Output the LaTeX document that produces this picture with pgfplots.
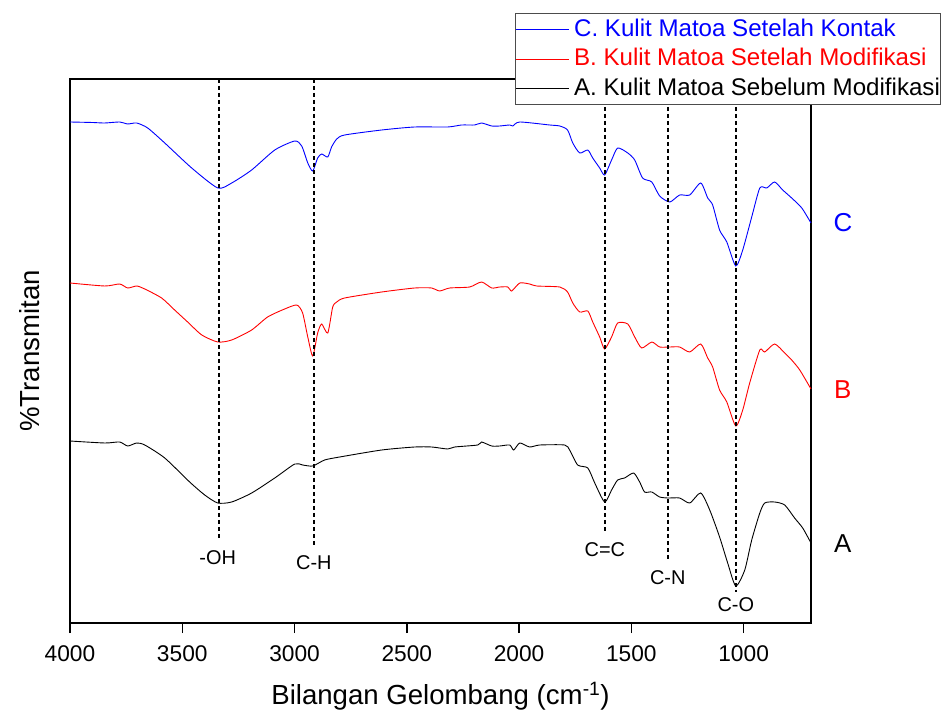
\documentclass[border=0pt]{standalone}
\usepackage{fontspec}
\setmainfont{Liberation Sans}
\usepackage{pgfplots}
\pgfplotsset{compat=1.18}

\begin{document}
\begin{tikzpicture}
\useasboundingbox (-70bp,-88bp) rectangle (875bp,623bp);
\begin{axis}[
  at={(0bp,0bp)}, anchor=south west,
  scale only axis, width=741bp, height=544bp,
  xmin=700, xmax=4000, x dir=reverse,
  ymin=0, ymax=544,
  axis line style={line width=1.5bp},
  xtick={1000,1500,...,4000},
  ytick=\empty,
  tick pos=left,
  tick align=outside,
  major tick length=10bp,
  xtick style={draw=black, line width=1.5bp},
  ticklabel style={font=\fontsize{22.8}{27}\selectfont},
  xticklabel style={yshift=-9bp},
  /pgf/number format/assume math mode=true,
  /pgf/number format/set thousands separator={},
  xlabel={Bilangan Gelombang (cm\textsuperscript{-1})},
  ylabel={\%Transmitan},
  label style={font=\fontsize{27.7}{32}\selectfont},
  xlabel style={at={(axis description cs:0.5,-0.134)}, anchor=center},
  ylabel style={at={(axis description cs:-0.054,0.5)}, anchor=center},
  clip=false,
  legend style={at={(axis description cs:1.1754,1.1204)}, anchor=north east,
    draw=black!70, line width=1bp, fill=white, inner xsep=0bp, inner ysep=1bp,
    column sep=4bp,
    font=\fontsize{24.2}{29}\selectfont, cells={anchor=west},
    nodes={inner xsep=0.5bp, inner ysep=1.5bp, text height=20bp, text depth=6.5bp}},
  legend image code/.code={\draw[#1, line width=0.9bp] (0bp,0bp) -- (53bp,0bp);},
]

% C - setelah kontak
\addplot[draw=blue, line width=0.9bp, smooth, tension=0.4] coordinates {
(4000,501) (3900,500.5) (3845,500) (3779,501) (3743,499) (3703,500) (3654,495)
(3578,480) (3458,455) (3342,435) (3280,440) (3191,453) (3088,473) (2999,482)
(2968,477) (2941,460) (2919,452) (2897,465) (2879,469) (2852,466) (2835,476)
(2812,484) (2777,488) (2612,493) (2465,496) (2318,496) (2256,498) (2198,498)
(2167,500) (2122,497) (2086,497) (2042,498) (2028,497) (1997,501) (1864,498)
(1819,497) (1784,493) (1761,480) (1730,470) (1694,473) (1672,465) (1641,455)
(1619,448) (1588,463) (1561,475) (1516,470) (1485,463) (1450,445) (1409,441)
(1374,427) (1329,421) (1285,428) (1240,428) (1191,440) (1160,425) (1138,418)
(1107,393) (1075,381) (1035,357) (1004,373) (964,406) (928,435) (897,435)
(862,441) (826,433) (786,425) (741,415) (700,400)};
\addlegendentry{\textcolor{blue}{C. Kulit Matoa Setelah Kontak}}

% B - setelah modifikasi
\addplot[draw=red, line width=0.9bp, smooth, tension=0.4] coordinates {
(4000,340) (3845,337) (3779,339) (3743,335) (3703,337) (3667,334) (3592,325)
(3534,313) (3476,301) (3413,288) (3342,281) (3280,283) (3191,293) (3120,306)
(3044,314) (2990,318) (2964,310) (2941,286) (2919,267) (2897,290) (2879,299)
(2852,290) (2830,316) (2812,321) (2777,325) (2612,331) (2465,335) (2389,335)
(2354,332) (2309,335) (2220,336) (2167,341) (2122,335) (2086,336) (2050,336)
(2033,332) (1997,340) (1953,339) (1922,337) (1819,336) (1784,331) (1761,320)
(1730,311) (1694,312) (1672,301) (1641,286) (1619,274) (1588,286) (1561,300)
(1516,299) (1485,286) (1454,275) (1409,281) (1374,276) (1329,276) (1285,276)
(1240,271) (1191,279) (1160,265) (1138,256) (1107,233) (1075,221) (1035,197)
(1004,213) (973,240) (928,273) (906,271) (862,279) (817,270) (786,263)
(750,253) (700,234)};
\addlegendentry{\textcolor{red}{B. Kulit Matoa Setelah Modifikasi}}

% A - sebelum modifikasi
\addplot[draw=black, line width=0.9bp, smooth, tension=0.4] coordinates {
(4000,182) (3845,180) (3779,181) (3743,177) (3703,180) (3667,178) (3578,165)
(3467,141) (3400,128) (3342,120) (3280,121) (3191,130) (3088,145) (2999,159)
(2964,158) (2919,157) (2866,163) (2799,166) (2612,173) (2465,176) (2389,176)
(2318,174) (2287,176) (2184,178) (2167,181) (2122,177) (2086,177) (2042,178)
(2024,173) (1997,180) (1953,176) (1908,178) (1797,178) (1775,173) (1739,158)
(1694,155) (1663,140) (1619,121) (1588,133) (1561,143) (1530,145) (1490,150)
(1463,141) (1441,131) (1409,131) (1374,126) (1338,125) (1285,125) (1240,120)
(1191,130) (1151,113) (1107,86) (1071,60) (1035,37) (995,53) (964,83)
(928,110) (906,120) (862,121) (817,118) (773,105) (737,95) (700,80)};
\addlegendentry{A. Kulit Matoa Sebelum Modifikasi}

% tanda tik sumbu x (ke luar)
\addplot[black, line width=1.5bp, forget plot] coordinates {(4000,0) (4000,-10)};
\addplot[black, line width=1.5bp, forget plot] coordinates {(3500,0) (3500,-10)};
\addplot[black, line width=1.5bp, forget plot] coordinates {(3000,0) (3000,-10)};
\addplot[black, line width=1.5bp, forget plot] coordinates {(2500,0) (2500,-10)};
\addplot[black, line width=1.5bp, forget plot] coordinates {(2000,0) (2000,-10)};
\addplot[black, line width=1.5bp, forget plot] coordinates {(1500,0) (1500,-10)};
\addplot[black, line width=1.5bp, forget plot] coordinates {(1000,0) (1000,-10)};

% garis penanda gugus fungsi
\addplot[black, line width=2.2bp, dash pattern=on 4bp off 3bp, forget plot] coordinates {(3338,544) (3338,85)};
\addplot[black, line width=2.2bp, dash pattern=on 4bp off 3bp, forget plot] coordinates {(2914,544) (2914,78)};
\addplot[black, line width=2.2bp, dash pattern=on 4bp off 3bp, forget plot] coordinates {(1618,544) (1618,90)};
\addplot[black, line width=2.2bp, dash pattern=on 4bp off 3bp, forget plot] coordinates {(1338,544) (1338,63)};
\addplot[black, line width=2.2bp, dash pattern=on 4bp off 3bp, forget plot] coordinates {(1035,544) (1035,31)};

\node[font=\fontsize{20}{24}\selectfont] at (axis cs:3342,65) {-OH};
\node[font=\fontsize{20}{24}\selectfont] at (axis cs:2914,60) {C-H};
\node[font=\fontsize{20}{24}\selectfont] at (axis cs:1618,73) {C=C};
\node[font=\fontsize{20}{24}\selectfont] at (axis cs:1338,45) {C-N};
\node[font=\fontsize{20}{24}\selectfont] at (axis cs:1035,18) {C-O};

\node[font=\fontsize{26}{30}\selectfont, text=blue] at (axis cs:558,400) {C};
\node[font=\fontsize{26}{30}\selectfont, text=red] at (axis cs:558,233) {B};
\node[font=\fontsize{26}{30}\selectfont] at (axis cs:558,79) {A};
\end{axis}
\end{tikzpicture}
\end{document}
